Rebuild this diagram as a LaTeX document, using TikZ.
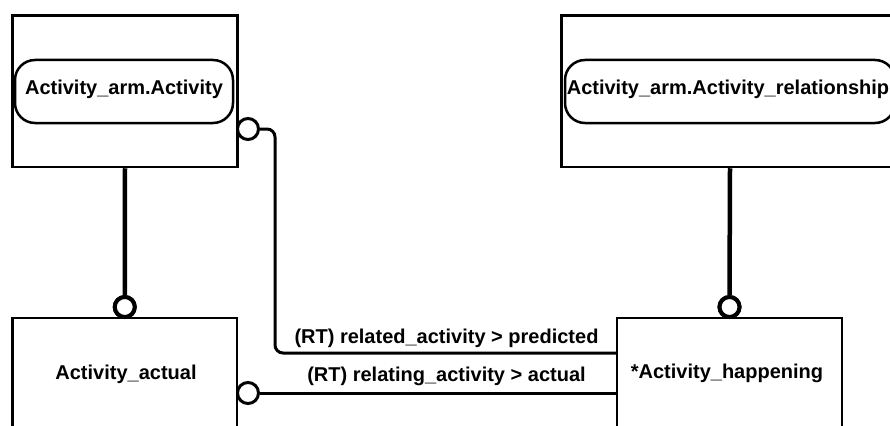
\documentclass[tikz,border=0pt]{standalone}
\usepackage{fontspec}
\setmainfont{Liberation Sans}
\usetikzlibrary{calc}
\begin{document}
\begin{tikzpicture}[x=1pt,y=-1pt,
  box/.style={draw=black, line width=2.5pt, rectangle, inner sep=0pt, fill=none},
  pill/.style={draw=black, line width=2.5pt, rectangle, rounded corners=20pt, inner sep=0pt},
  txt/.style={anchor=base, inner sep=0pt, font=\fontsize{20}{24}\selectfont\bfseries},
  ringbig/.style={draw=black, fill=white, circle, line width=4pt, minimum size=20pt, inner sep=0pt},
  ringsmall/.style={draw=black, fill=white, circle, line width=3pt, minimum size=21pt, inner sep=0pt},
  stem/.style={draw=black, line width=4.5pt},
  conn/.style={draw=black, line width=3pt}]
\useasboundingbox (0,0) rectangle (890,425);
\clip (0,0) rectangle (890,425);
\fill[white] (0,0) rectangle (890,425);
% boxes
\node[box, minimum width=225pt, minimum height=151.5pt] (A) at (125,91.25) {};
\node[box, minimum width=337pt, minimum height=151.5pt] (B) at (730,91.25) {};
\node[box, minimum width=224.5pt, minimum height=127pt] (C) at (124.75,381.5) {};
\node[box, minimum width=225pt, minimum height=127pt] (D) at (729.5,381.5) {};
% pills
\node[pill, minimum width=218pt, minimum height=63pt] (pA) at (124,91.5) {};
\node[pill, minimum width=330pt, minimum height=63pt] (pB) at (730,91.5) {};
% texts
\node[txt] (tA) at (124,94.5) {Activity\_arm.Activity};
\node[txt] (tB) at (728,94.5) {Activity\_arm.Activity\_relationship};
\node[txt] (tC) at (126,379) {Activity\_actual};
\node[txt] (tD) at (727,378) {*Activity\_happening};
% stem connectors
\node[ringbig] (cAC) at (124.75,307) {};
\node[ringbig] (cBD) at (729.5,307) {};
\draw[stem] (A.south) -- (cAC.north);
\draw[stem] (B.south) -- (cBD.north);
\node[ringbig] at (cAC) {};
\node[ringbig] at (cBD) {};
% side connectors
\node[ringsmall] (cA) at (248,129) {};
\node[ringsmall] (cC) at (248,393) {};
\coordinate (k1) at (275,353);
\draw[conn, rounded corners=8pt] (cA.east) -| (k1) -- (k1 -| D.west);
\draw[conn] (cC.east) -- (cC.east -| D.west);
% labels
\node[txt] (l1) at (446.5,343) {(RT) related\_activity > predicted};
\node[txt] (l2) at (446.5,381.5) {(RT) relating\_activity > actual};
\end{tikzpicture}
\end{document}
